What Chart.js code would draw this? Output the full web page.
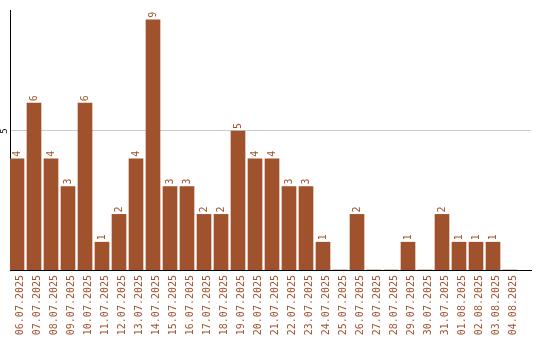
<!DOCTYPE html>
<html>
<head>
<meta charset="utf-8">
<script src="https://cdn.jsdelivr.net/npm/chart.js@4/dist/chart.umd.min.js"></script>
<style>
  html, body { margin: 0; padding: 0; background: #fff; }
  #wrap { width: 540px; height: 340px; position: relative; }
</style>
</head>
<body>
<div id="wrap"><canvas id="chart"></canvas></div>
<script>
const dates = [
  "06.07.2025", "07.07.2025", "08.07.2025", "09.07.2025", "10.07.2025",
  "11.07.2025", "12.07.2025", "13.07.2025", "14.07.2025", "15.07.2025",
  "16.07.2025", "17.07.2025", "18.07.2025", "19.07.2025", "20.07.2025",
  "21.07.2025", "22.07.2025", "23.07.2025", "24.07.2025", "25.07.2025",
  "26.07.2025", "27.07.2025", "28.07.2025", "29.07.2025", "30.07.2025",
  "31.07.2025", "01.08.2025", "02.08.2025", "03.08.2025", "04.08.2025",
];
const counts = [4, 6, 4, 3, 6, 1, 2, 4, 9, 3, 3, 2, 2, 5, 4, 4, 3, 3, 1, 0, 2, 0, 0, 1, 0, 2, 1, 1, 1, 0];
const yTicks = [5];

const BAR_COLOR = "#a0522d";
const MONO = "'DejaVu Sans Mono', monospace";

// value labels over the bars + the rotated y tick label
const barLabels = {
  id: "barLabels",
  afterDatasetsDraw(chart) {
    const { ctx } = chart;
    const meta = chart.getDatasetMeta(0);
    ctx.save();
    ctx.fillStyle = BAR_COLOR;
    ctx.font = `10px ${MONO}`;
    ctx.textAlign = "left";
    ctx.textBaseline = "middle";
    meta.data.forEach((bar, i) => {
      if (!counts[i]) return;
      ctx.save();
      ctx.translate(bar.x, bar.y - 2);
      ctx.rotate(-Math.PI / 2);
      ctx.fillText(String(counts[i]), 0, 0);
      ctx.restore();
    });

    const y = chart.scales.y;
    ctx.fillStyle = "#000";
    ctx.font = `9px ${MONO}`;
    ctx.textAlign = "center";
    ctx.textBaseline = "alphabetic";
    yTicks.forEach(v => {
      ctx.save();
      ctx.translate(7, y.getPixelForValue(v));
      ctx.rotate(-Math.PI / 2);
      ctx.fillText(String(v), 0, 0);
      ctx.restore();
    });
    ctx.restore();
  },
};

new Chart(document.getElementById("chart"), {
  type: "bar",
  data: {
    datasets: [{
      data: counts.map((v, i) => ({ x: i, y: v })),
      backgroundColor: BAR_COLOR,
      borderWidth: 0,
      barThickness: 14,
    }],
  },
  options: {
    responsive: true,
    maintainAspectRatio: false,
    animation: false,
    devicePixelRatio: 1,
    layout: { padding: { top: 10, right: 9, left: 0, bottom: 0 } },
    plugins: {
      legend: { display: false },
      tooltip: { enabled: false },
    },
    scales: {
      x: {
        type: "linear",
        offset: false,
        min: -7 / 17,
        max: 514 / 17,
        afterBuildTicks: scale => { scale.ticks = dates.map((_, i) => ({ value: i })); },
        afterFit: scale => { scale.height = 70; },
        grid: { display: false, drawTicks: false },
        border: { display: true, color: "#000", width: 1 },
        ticks: {
          autoSkip: false,
          maxRotation: 90,
          minRotation: 90,
          padding: 5,
          labelOffset: 3,
          color: BAR_COLOR,
          font: { family: MONO, size: 10 },
          callback: value => dates[value] ?? "",
        },
      },
      y: {
        min: 0,
        max: 9.35,
        afterBuildTicks: scale => { scale.ticks = yTicks.map(value => ({ value })); },
        afterFit: scale => { scale.width = 10; },
        grid: { color: "#cccccc", lineWidth: 1, drawTicks: false },
        border: { display: true, color: "#000", width: 1 },
        ticks: { display: false },
      },
    },
  },
  plugins: [barLabels],
});
</script>
</body>
</html>
